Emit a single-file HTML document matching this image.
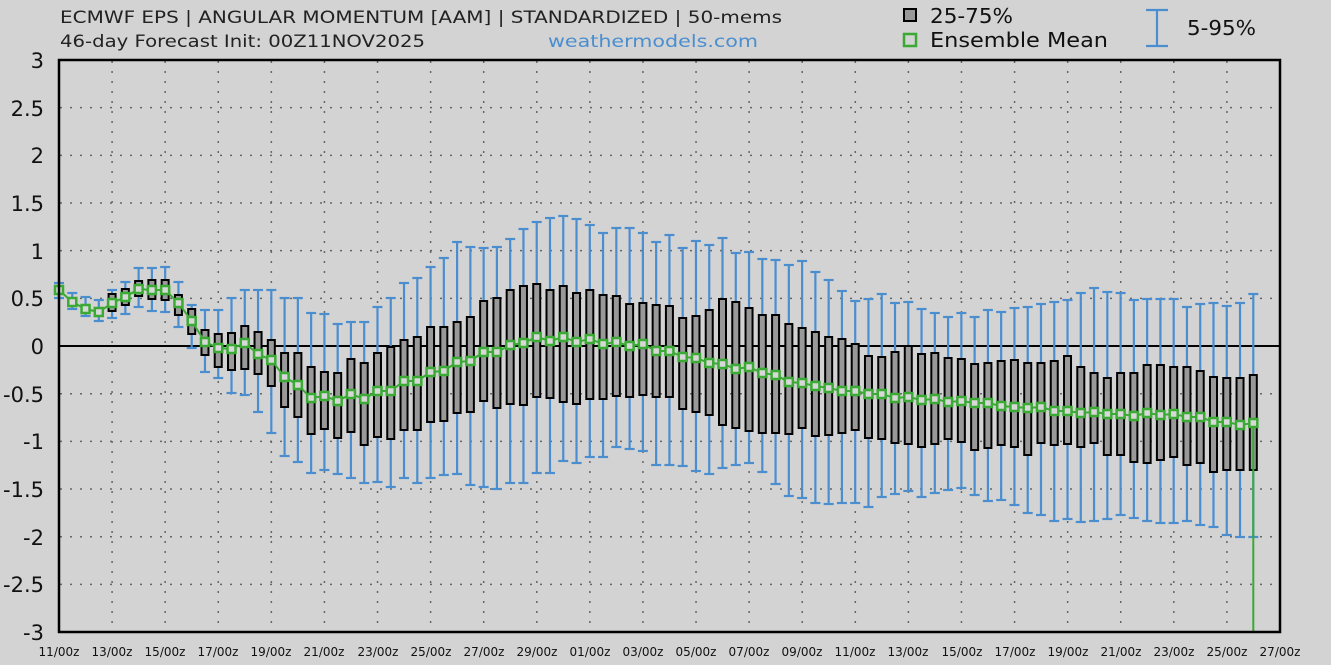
<!DOCTYPE html>
<html><head><meta charset="utf-8"><style>
html,body{margin:0;padding:0;background:#d3d3d3;}
svg{display:block;font-family:"DejaVu Sans","Liberation Sans",sans-serif;}
</style></head><body>
<svg id="s" width="1331" height="665" xmlns="http://www.w3.org/2000/svg">
<rect x="0" y="0" width="1331" height="665" fill="#d3d3d3"/>
<g id="grid" stroke="#666" stroke-width="1.5" stroke-dasharray="2,8"></g>
<line x1="59" y1="346" x2="1280" y2="346" stroke="#000" stroke-width="2"/>
<g id="wh" stroke="#4a8ed0" stroke-width="2.2" fill="none"></g>
<g id="bx" stroke="#000" stroke-width="2" fill="#999"></g>
<g id="mn"></g>
<rect x="59" y="60" width="1221" height="572" fill="none" stroke="#000" stroke-width="2.5"/>
<g font-size="21" fill="#111" text-anchor="end">
<text x="44" y="68">3</text><text x="44" y="116">2.5</text><text x="44" y="163">2</text><text x="44" y="211">1.5</text><text x="44" y="259">1</text><text x="44" y="306">0.5</text><text x="44" y="354">0</text><text x="44" y="402">-0.5</text><text x="44" y="449">-1</text><text x="44" y="497">-1.5</text><text x="44" y="545">-2</text><text x="44" y="592">-2.5</text><text x="44" y="640">-3</text>
</g>
<g font-size="12" fill="#111" text-anchor="middle">
<text x="59" y="656">11/00z</text><text x="112" y="656">13/00z</text><text x="165" y="656">15/00z</text><text x="218" y="656">17/00z</text><text x="271" y="656">19/00z</text><text x="324" y="656">21/00z</text><text x="378" y="656">23/00z</text><text x="431" y="656">25/00z</text><text x="484" y="656">27/00z</text><text x="537" y="656">29/00z</text><text x="590" y="656">01/00z</text><text x="643" y="656">03/00z</text><text x="696" y="656">05/00z</text><text x="749" y="656">07/00z</text><text x="802" y="656">09/00z</text><text x="855" y="656">11/00z</text><text x="908" y="656">13/00z</text><text x="962" y="656">15/00z</text><text x="1015" y="656">17/00z</text><text x="1068" y="656">19/00z</text><text x="1121" y="656">21/00z</text><text x="1174" y="656">23/00z</text><text x="1227" y="656">25/00z</text><text x="1280" y="656">27/00z</text>
</g>
<text x="60" y="23" font-size="16.5" fill="#222" textLength="722" lengthAdjust="spacingAndGlyphs">ECMWF EPS | ANGULAR MOMENTUM [AAM] | STANDARDIZED | 50-mems</text>
<text x="60" y="47" font-size="16.5" fill="#222" textLength="365" lengthAdjust="spacingAndGlyphs">46-day Forecast Init: 00Z11NOV2025</text>
<text x="548" y="47" font-size="17" fill="#4a8ed0" textLength="210" lengthAdjust="spacingAndGlyphs">weathermodels.com</text>
<rect x="904" y="9" width="12" height="12" fill="#999" stroke="#000" stroke-width="2"/>
<text x="930" y="23" font-size="20" fill="#111" textLength="83" lengthAdjust="spacingAndGlyphs">25-75%</text>
<rect x="904" y="34" width="12" height="12" fill="#d3d3d3" stroke="#3aaa35" stroke-width="2.5"/>
<text x="930" y="47" font-size="20" fill="#111" textLength="178" lengthAdjust="spacingAndGlyphs">Ensemble Mean</text>
<g stroke="#4a8ed0" stroke-width="2.2"><line x1="1157" y1="10" x2="1157" y2="46"/><line x1="1146" y1="10" x2="1168" y2="10"/><line x1="1146" y1="46" x2="1168" y2="46"/></g>
<text x="1187" y="35" font-size="20" fill="#111" textLength="69" lengthAdjust="spacingAndGlyphs">5-95%</text>
</svg>
<script>
var D=[[290,288,292,283,298],[302,299,305,293,309],[309,306,312,297,316],[312,309,315,300,321],[303,294,311,290,318],[297,289,305,282,314],[289,281,296,268,307],[290,280,299,268,311],[290,280,300,267,312],[303,295,315,282,327],[321,309,334,305,348],[342,330,355,310,372],[348,334,367,310,378],[349,333,370,298,393],[343,326,369,290,395],[354,332,374,290,412],[360,340,386,290,433],
[377,353,407,298,456],[385,353,417,298,462],[398,367,434,313,473],[396,372,429,314,470],[401,373,438,324,474],[394,359,432,322,478],[399,363,445,322,483],[391,353,437,307,482],[391,347,439,298,487],[381,340,430,283,478],[381,337,430,278,483],[372,327,422,267,478],[371,327,421,258,475],[362,322,413,242,474],[361,317,412,247,485],[352,301,401,248,487],[352,298,408,247,489],
[345,290,404,239,483],[343,286,405,229,483],[337,284,397,222,473],[341,290,398,218,473],[337,286,402,216,461],[342,293,404,219,463],[339,290,399,225,457],[344,295,399,233,457],[342,296,396,228,447],[346,304,397,228,449],[344,303,395,233,451],[351,305,397,242,465],[351,306,397,235,465],[357,318,409,248,466],[358,316,412,241,471],[363,310,415,245,474],[364,299,425,238,468],
[369,302,428,253,465],[367,308,431,252,463],[373,315,433,259,472],[375,315,433,260,484],[382,324,434,265,496],[383,328,428,261,498],[386,332,436,272,503],[388,337,435,280,504],[391,339,433,291,503],[391,344,430,301,503],[394,356,438,299,507],[394,357,439,294,497],[398,352,443,303,494],[397,346,444,302,491],[400,354,447,309,497],[399,353,444,313,493],[402,358,439,317,490],
[401,359,442,313,488],[403,364,450,317,495],[403,363,448,310,501],[406,361,445,312,500],[407,360,447,308,505],[408,363,455,307,513],[407,363,443,304,515],[411,361,445,302,521],[411,356,444,300,519],[413,367,447,293,522],[412,373,443,288,521],[414,378,455,292,519],[414,373,455,293,515],[416,373,462,300,518],[413,365,463,299,521],[415,365,460,299,523],[414,367,457,299,523],
[417,367,465,307,521],[417,371,463,304,525],[422,377,472,303,527],[422,378,470,306,535],[425,378,470,303,537],[423,375,470,294,537]];
var NS="http://www.w3.org/2000/svg";
function el(p,t,a){var e=document.createElementNS(NS,t);for(var k in a)e.setAttribute(k,a[k]);document.getElementById(p).appendChild(e);return e;}
for(var k=1;k<23;k++){var x=59+k*53.087;el("grid","line",{x1:x,y1:61,x2:x,y2:631});}
for(var j=1;j<12;j++){if(j==6)continue;var y=60+j*47.67;el("grid","line",{x1:60,y1:y,x2:1279,y2:y});}
var pts=[];
D.forEach(function(d,i){var x=59+i*13.27;
el("wh","line",{x1:x,y1:d[3],x2:x,y2:d[4]});
el("wh","line",{x1:x-5,y1:d[3],x2:x+5,y2:d[3]});
el("wh","line",{x1:x-5,y1:d[4],x2:x+5,y2:d[4]});
if(i>3)el("bx","rect",{x:x-3.5,y:d[1],width:7,height:d[2]-d[1]});
pts.push(x.toFixed(1)+","+d[0]);});
var lx=59+90*13.27;pts.push(lx.toFixed(1)+",632");
el("mn","polyline",{points:pts.join(" "),fill:"none",stroke:"#3aaa35","stroke-width":2});
D.forEach(function(d,i){var x=59+i*13.27;el("mn","rect",{x:x-4,y:d[0]-4,width:8,height:8,fill:"#d8d8d8",stroke:"#3aaa35","stroke-width":2.5});});
</script>
</body></html>
